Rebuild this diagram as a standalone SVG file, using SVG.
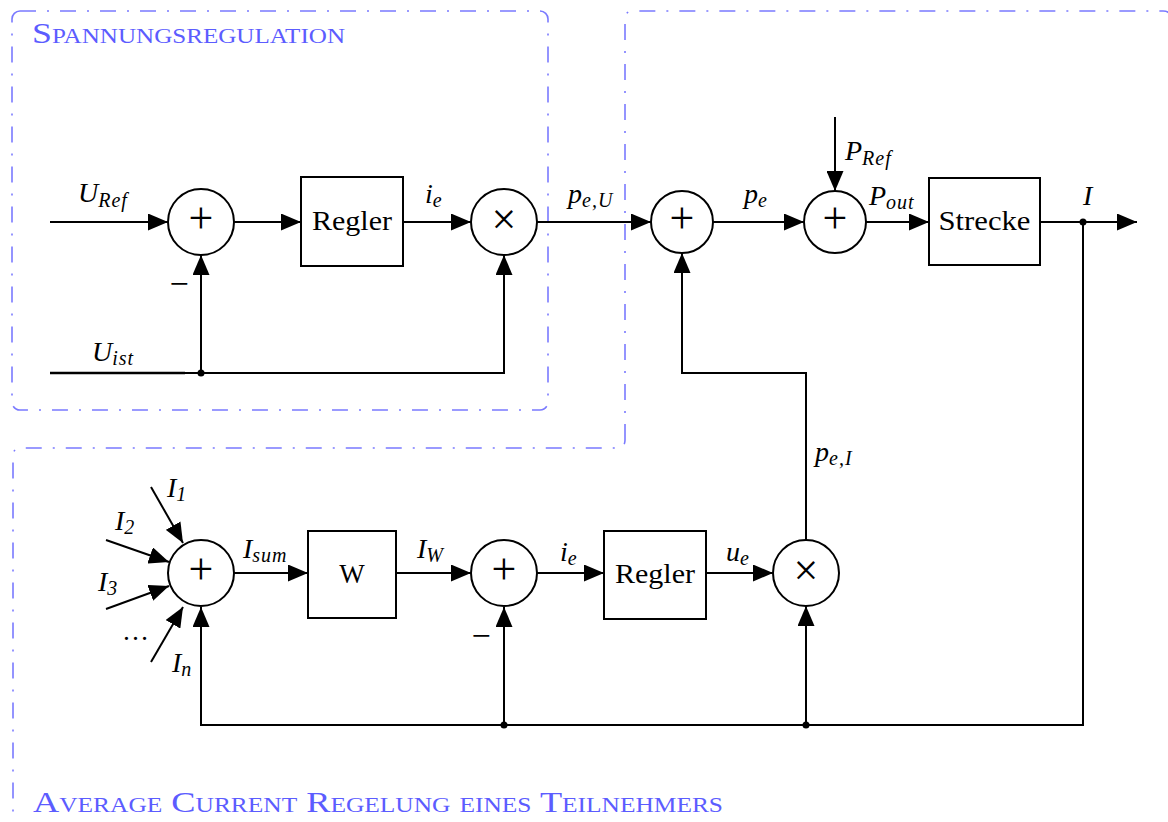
<svg xmlns="http://www.w3.org/2000/svg" width="1168" height="822" viewBox="0 0 1168 822">
<style>
.frame{fill:none;stroke:#7a7aff;stroke-width:1.6;stroke-dasharray:16 11 2 11}
.ftitle{fill:#5c5cff;font-family:"Liberation Serif",serif;font-variant:small-caps;font-size:30px}
.blk{fill:#fff;stroke:#000;stroke-width:2}
.w{stroke:#000;stroke-width:2;fill:none}
.wa{stroke:#000;stroke-width:2;fill:none;marker-end:url(#ah)}
.t{font-family:"Liberation Serif",serif;font-size:27px;fill:#000}
.m{font-family:"Liberation Serif",serif;font-style:italic;font-size:28px;fill:#000}
.s{font-size:20px;letter-spacing:1px}
.op{font-family:"Liberation Serif",serif;font-size:44px;fill:#000;text-anchor:middle}
.mn{font-family:"Liberation Serif",serif;font-size:34px;fill:#000;text-anchor:middle}
</style>
<defs>
<marker id="ah" markerWidth="20" markerHeight="17" refX="20" refY="8.5" orient="auto" markerUnits="userSpaceOnUse">
<path d="M0,0 L20,8.5 L0,17 Z" fill="#000"/>
</marker>
</defs>
<rect width="1168" height="822" fill="#fff"/>

<g id="frame-spannung">
<rect class="frame" x="12" y="11" width="536" height="399" rx="8"/>
<text class="ftitle" x="32" y="43" textLength="313" lengthAdjust="spacingAndGlyphs">Spannungsregulation</text>
</g>
<g id="frame-current">
<path class="frame" d="M625,440 L625,19 Q625,11 633,11 L1163,11 Q1171,11 1171,19 L1171,817 Q1171,825 1163,825 L21,825 Q13,825 13,817 L13,456 Q13,448 21,448 L617,448 Q625,448 625,440 Z"/>
<text class="ftitle" x="33" y="812" textLength="690" lengthAdjust="spacingAndGlyphs">Average Current Regelung eines Teilnehmers</text>
</g>

<g id="connectors">
<line class="wa" x1="50" y1="222" x2="168" y2="222"/>
<line class="wa" x1="234" y1="222" x2="301" y2="222"/>
<line class="wa" x1="403" y1="222" x2="471" y2="222"/>
<line class="wa" x1="537" y1="222" x2="651" y2="222"/>
<line class="wa" x1="713" y1="222" x2="804" y2="222"/>
<line class="wa" x1="835" y1="117" x2="835" y2="191"/>
<line class="wa" x1="866" y1="222" x2="929" y2="222"/>
<line class="wa" x1="1040" y1="222" x2="1137" y2="222"/>
<line class="w" x1="50" y1="373" x2="185" y2="373" style="stroke-width:2.6"/>
<polyline class="wa" points="50,373 504,373 504,255"/>
<line class="wa" x1="201" y1="373" x2="201" y2="255"/>
<polyline class="wa" points="806,540 806,373 682,373 682,253"/>
<polyline class="wa" points="1083,222 1083,725 201,725 201,607"/>
<line class="wa" x1="504" y1="725" x2="504" y2="607"/>
<line class="wa" x1="806" y1="725" x2="806" y2="606"/>
<line class="wa" x1="151" y1="487" x2="183" y2="543"/>
<line class="wa" x1="106" y1="540" x2="169" y2="562"/>
<line class="wa" x1="106" y1="609" x2="169" y2="586"/>
<line class="wa" x1="151" y1="662" x2="183" y2="607"/>
<line class="wa" x1="234" y1="573" x2="308" y2="573"/>
<line class="wa" x1="396" y1="573" x2="471" y2="573"/>
<line class="wa" x1="537" y1="573" x2="604" y2="573"/>
<line class="wa" x1="706" y1="573" x2="773" y2="573"/>
<circle cx="201" cy="373" r="3.5"/>
<circle cx="1083" cy="222" r="3.5"/>
<circle cx="504" cy="725" r="3.5"/>
<circle cx="806" cy="725" r="3.5"/>
</g>

<g id="sum1"><circle class="blk" cx="201" cy="222" r="33"/><text class="op" x="201" y="233">+</text></g>
<g id="regler1"><rect class="blk" x="301" y="177" width="102" height="89"/><text class="t" x="352" y="230" text-anchor="middle" textLength="80" lengthAdjust="spacingAndGlyphs">Regler</text></g>
<g id="mult1"><circle class="blk" cx="504" cy="222" r="33"/><text class="op" x="504" y="234">×</text></g>
<g id="sum2"><circle class="blk" cx="682" cy="222" r="31"/><text class="op" x="682" y="233">+</text></g>
<g id="sum3"><circle class="blk" cx="835" cy="222" r="31"/><text class="op" x="835" y="233">+</text></g>
<g id="strecke"><rect class="blk" x="929" y="178" width="111" height="87"/><text class="t" x="984.5" y="230" text-anchor="middle" textLength="92" lengthAdjust="spacingAndGlyphs">Strecke</text></g>
<g id="sum4"><circle class="blk" cx="201" cy="573" r="33"/><text class="op" x="201" y="584">+</text></g>
<g id="wbox"><rect class="blk" x="308" y="531" width="88" height="87"/><text class="t" x="352" y="583" text-anchor="middle">W</text></g>
<g id="sum5"><circle class="blk" cx="504" cy="573" r="33"/><text class="op" x="504" y="584">+</text></g>
<g id="regler2"><rect class="blk" x="604" y="531" width="102" height="88"/><text class="t" x="655" y="583" text-anchor="middle" textLength="80" lengthAdjust="spacingAndGlyphs">Regler</text></g>
<g id="mult2"><circle class="blk" cx="806" cy="573" r="33"/><text class="op" x="806" y="585">×</text></g>

<g id="labels">
<text class="m" x="78" y="202">U<tspan class="s" dy="5">Ref</tspan></text>
<text class="m" x="92" y="361">U<tspan class="s" dy="4">ist</tspan></text>
<text class="mn" x="179" y="295">−</text>
<text class="m" x="425" y="203">i<tspan class="s" dy="4">e</tspan></text>
<text class="m" x="568" y="203">p<tspan class="s" dy="4">e,U</tspan></text>
<text class="m" x="744" y="203">p<tspan class="s" dy="4">e</tspan></text>
<text class="m" x="845" y="160">P<tspan class="s" dy="5">Ref</tspan></text>
<text class="m" x="869" y="205">P<tspan class="s" dy="4">out</tspan></text>
<text class="m" x="1083" y="205">I</text>
<text class="m" x="815" y="461">p<tspan class="s" dy="4">e,I</tspan></text>
<text class="m" x="167" y="497">I<tspan class="s" dy="4">1</tspan></text>
<text class="m" x="115" y="530">I<tspan class="s" dy="4">2</tspan></text>
<text class="m" x="98" y="591">I<tspan class="s" dy="4">3</tspan></text>
<text class="t" x="122" y="640" textLength="30" lengthAdjust="spacing">…</text>
<text class="m" x="172" y="672">I<tspan class="s" dy="4">n</tspan></text>
<text class="m" x="243" y="558">I<tspan class="s" dy="4">sum</tspan></text>
<text class="m" x="417" y="558">I<tspan class="s" dy="4">W</tspan></text>
<text class="m" x="560" y="561">i<tspan class="s" dy="4">e</tspan></text>
<text class="m" x="726" y="561">u<tspan class="s" dy="4">e</tspan></text>
<text class="mn" x="481" y="647">−</text>
</g>
</svg>
